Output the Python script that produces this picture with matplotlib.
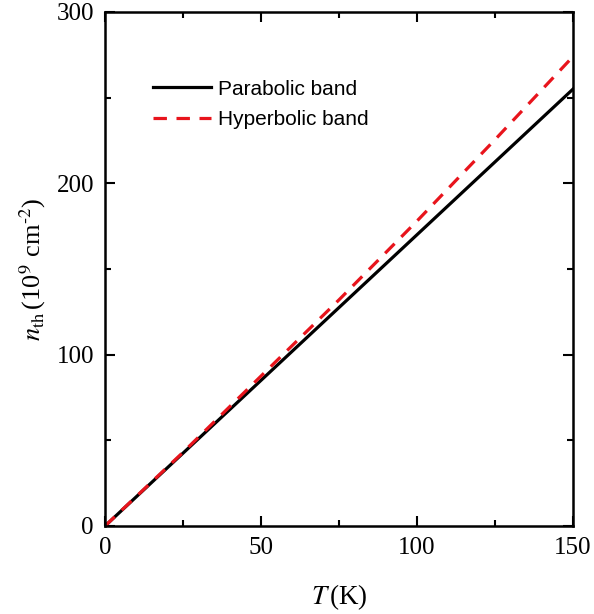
import numpy as np
import matplotlib.pyplot as plt
from matplotlib.ticker import MultipleLocator

# values
T = [0, 25, 50, 75, 100, 125, 150]
n_parabolic = [0, 42.5, 85, 127.5, 170, 212.5, 255]
n_hyperbolic = [0, 43, 87.5, 132, 178, 225.5, 274]

plt.rcParams['font.family'] = ['Liberation Serif', 'DejaVu Serif']
plt.rcParams['mathtext.fontset'] = 'stix'

fig = plt.figure(figsize=(5.94, 6.14), dpi=100)
ax = fig.add_axes([105/594, 1 - 526/614, (573-105)/594, (526-12)/614])

ax.plot(T, n_parabolic, color='black', lw=2.3, label='Parabolic band')
ax.plot(T, n_hyperbolic, color='#e8141c', lw=2.3, ls=(0, (4.2, 3)), label='Hyperbolic band')

ax.set_xlim(0, 150)
ax.set_ylim(0, 300)
ax.xaxis.set_major_locator(MultipleLocator(50))
ax.xaxis.set_minor_locator(MultipleLocator(25))
ax.yaxis.set_major_locator(MultipleLocator(100))
ax.yaxis.set_minor_locator(MultipleLocator(50))
ax.tick_params(which='both', direction='in', top=True, right=True, width=1.5, labelsize=18)
ax.tick_params(which='major', length=7, pad=8)
ax.tick_params(which='minor', length=4)
for s in ax.spines.values():
    s.set_linewidth(1.8)

ax.set_xlabel(r'$\mathit{T}\,$(K)', fontsize=19.5, labelpad=17)
ax.set_ylabel('$\\mathit{n}_{\\rm th}\\,$(10$^{9}$ cm$^{\u2010 2}$)', fontsize=19, labelpad=6)

leg = ax.legend(loc='upper left', bbox_to_anchor=(0.063, 0.905), frameon=False,
                prop={'family': 'Liberation Sans', 'size': 15},
                handlelength=2.75, handletextpad=0.34, labelspacing=0.55)

fig.savefig('out.png', dpi=100)
